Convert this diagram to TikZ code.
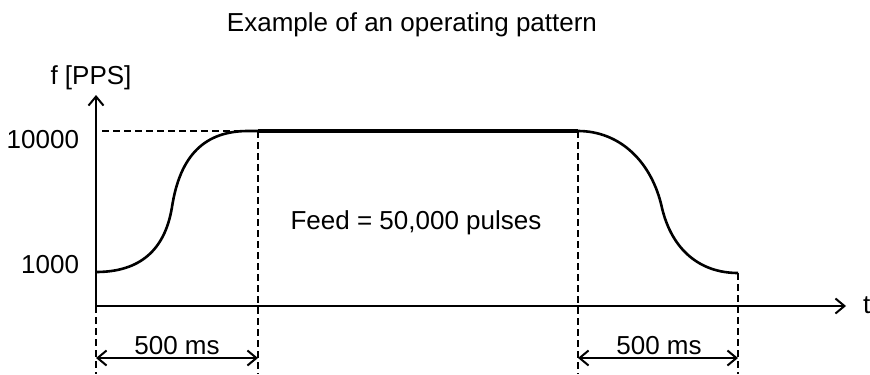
\documentclass[tikz,border=0pt]{standalone}
\usepackage{fontspec}
\setmainfont{Liberation Sans}
\usetikzlibrary{arrows.meta}
\tikzset{>={Straight Barb[length=4.5pt,width=7.5pt]}}
\tikzset{guide/.style={dash pattern=on 3.4pt off 2.1pt, line width=0.85pt},
         lbl/.style={inner sep=0pt, anchor=base, font=\fontsize{13}{15}\selectfont}}

\begin{document}
\begin{tikzpicture}[x=0.5pt, y=-0.5pt, line width=1pt]
		\useasboundingbox (0,0) rectangle (870,374);
		% axes
		\coordinate (O) at (96,306);
		\coordinate (Ytop) at (96,95);
		\coordinate (Xend) at (846,306);
		\draw [->](O)--(Ytop); \draw [->](O)--(Xend);
		% profile points
		\coordinate (P0) at (96,272);   \coordinate (P1) at (172,207);
		\coordinate (P2) at (258,131);  \coordinate (P3) at (578,131);
		\coordinate (P4) at (662,208);  \coordinate (P5) at (738,273);
		\coordinate (Y10) at (102,131);
		\draw [line width=1.3pt] (P0) .. controls (140,272) and (165,250) .. (P1)
		      .. controls (180,155) and (205,131) .. (248,131) -- (P2);
		\draw [line width=1.7pt] (P2)--(P3);
		\draw [line width=1.3pt] (P3) .. controls (620,131) and (652,162) .. (P4)
		      .. controls (672,250) and (700,273) .. (P5);
		% guides
		\coordinate (B0) at (96,374);  \coordinate (B2) at (258,374);
		\coordinate (B3) at (578,374); \coordinate (B5) at (738,374);
		\draw [guide](Y10)--(P2);
		\draw [guide](O)--(B0); \draw [guide](P2)--(B2);
		\draw [guide](P3)--(B3); \draw [guide](P5)--(B5);
		% dimensions
		\coordinate (D0) at (96,358);  \coordinate (D2) at (258,358);
		\coordinate (D3) at (578,358); \coordinate (D5) at (738,358);
		\draw [<->](D0)--(D2); \draw [<->](D3)--(D5);
		% texts
		\node[lbl] (title) at (412,32) {Example of an operating pattern};
		\node[lbl] (ylab) at (91,84) {f [PPS]};
		\node[lbl, anchor=base east] (f10) at (80,148) {10000};
		\node[lbl, anchor=base east] (f1) at (80,273) {1000};
		\node[lbl, anchor=base west] (tlab) at (862,313) {t};
		\node[lbl] (feed) at (416,229) {Feed = 50,000 pulses};
		\node[lbl] (ms1) at (177,354) {500 ms};
		\node[lbl] (ms2) at (659,354) {500 ms};
\end{tikzpicture}
\end{document}
